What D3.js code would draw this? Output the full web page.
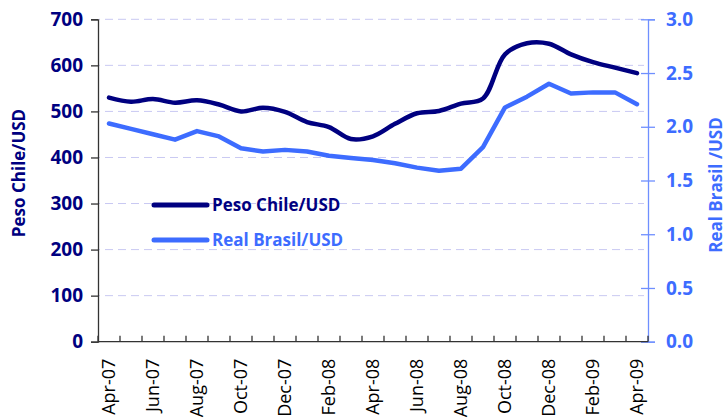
<!DOCTYPE html>
<html><head><meta charset="utf-8">
<script src="https://cdn.jsdelivr.net/npm/d3@7"></script>
<style>
html,body{margin:0;padding:0;background:#fff;overflow:hidden;}
svg{display:block;}
</style></head>
<body>
<svg id="chart" width="728" height="418"></svg>
<script>
const months = ["Apr-07","May-07","Jun-07","Jul-07","Aug-07","Sep-07","Oct-07","Nov-07","Dec-07","Jan-08","Feb-08","Mar-08","Apr-08","May-08","Jun-08","Jul-08","Aug-08","Sep-08","Oct-08","Nov-08","Dec-08","Jan-09","Feb-09","Mar-09","Apr-09"];
const tickLabels = ["Apr-07","Jun-07","Aug-07","Oct-07","Dec-07","Feb-08","Apr-08","Jun-08","Aug-08","Oct-08","Dec-08","Feb-09","Apr-09"];
const pesoChile = [530,521,527,519,524,515,500,508,499,477,466,440,446,473,496,501,517,528,624,648,647,624,607,595,583];
const realBrasil = [2.03,1.98,1.93,1.88,1.96,1.91,1.80,1.77,1.785,1.77,1.73,1.71,1.69,1.66,1.62,1.59,1.61,1.81,2.18,2.28,2.40,2.31,2.32,2.32,2.21];
const leftTicks = [0,100,200,300,400,500,600,700];
const rightTicks = [0,0.5,1,1.5,2,2.5,3];
const seriesNames = ["Peso Chile/USD","Real Brasil/USD"];

const navy = "#000080", blue = "#3d6cff";
const svg = d3.select("#chart");
const L = 98, R = 648, T = 19.3, B = 341.7;

const x = d3.scaleBand().domain(months).range([L, R]).paddingInner(0).paddingOuter(0);
const yL = d3.scaleLinear().domain([0, 700]).range([B, T]);
const yR = d3.scaleLinear().domain([0, 3]).range([B, T]);
const cx = d => x(d) + x.bandwidth() / 2;

// gridlines
svg.append("g").selectAll("line").data(leftTicks.filter(d => d > 0)).join("line")
  .attr("x1", L + 1).attr("x2", R - 4)
  .attr("y1", d => yL(d)).attr("y2", d => yL(d))
  .attr("stroke", "#c9c9f2").attr("stroke-width", 1)
  .attr("stroke-dasharray", "8,5").attr("stroke-dashoffset", -6);

// left axis
const gL = svg.append("g").attr("transform", `translate(${L},0)`)
  .call(d3.axisLeft(yL).tickValues(leftTicks).tickSize(7).tickPadding(8).tickFormat(d3.format("d")));
gL.select(".domain").attr("stroke", "#333").attr("stroke-width", 1.3);
gL.selectAll(".tick line").attr("stroke", "#333").attr("stroke-width", 1.3);
gL.selectAll(".tick text").attr("fill", navy).attr("font-family", "'Open Sans', sans-serif")
  .attr("font-weight", "bold").attr("font-size", "19px");

// right axis
const gR = svg.append("g").attr("transform", `translate(${R},0)`)
  .call(d3.axisRight(yR).tickValues(rightTicks).tickSize(7).tickPadding(11).tickFormat(d3.format(".1f")));
gR.select(".domain").attr("stroke", "#6f8fff").attr("stroke-width", 1.3);
gR.selectAll(".tick line").attr("stroke", "#6f8fff").attr("stroke-width", 1.3).attr("x1", -7);
gR.selectAll(".tick text").attr("fill", blue).attr("font-family", "'Open Sans', sans-serif")
  .attr("font-weight", "bold").attr("font-size", "19px");

// bottom axis
const gB = svg.append("g").attr("transform", `translate(0,${B})`);
gB.append("line").attr("x1", L).attr("x2", R).attr("stroke", "#333").attr("stroke-width", 1.3);
const bounds = months.map(m => x(m)).concat([R]);
gB.selectAll("line.tk").data(bounds).join("line").attr("class", "tk")
  .attr("x1", d => d).attr("x2", d => d).attr("y1", 0).attr("y2", -6)
  .attr("stroke", "#333").attr("stroke-width", 1.3);
gB.selectAll("text").data(tickLabels).join("text")
  .attr("transform", d => `translate(${cx(d)},17) rotate(-90)`)
  .attr("text-anchor", "end").attr("dy", "0.35em")
  .attr("font-family", "'Open Sans', sans-serif").attr("font-size", "18px").attr("fill", "#000")
  .text(d => d);

// lines
const linePeso = d3.line().x((d, i) => cx(months[i])).y(d => yL(d)).curve(d3.curveCatmullRom.alpha(0.5));
const lineReal = d3.line().x((d, i) => cx(months[i])).y(d => yR(d));
svg.append("path").datum(realBrasil).attr("d", lineReal).attr("fill", "none")
  .attr("stroke", blue).attr("stroke-width", 4.5).attr("stroke-linejoin", "round").attr("stroke-linecap", "round");
svg.append("path").datum(pesoChile).attr("d", linePeso).attr("fill", "none")
  .attr("stroke", navy).attr("stroke-width", 4.5).attr("stroke-linejoin", "round").attr("stroke-linecap", "round");

// legend
const leg = svg.append("g");
[[navy, 205], [blue, 240]].forEach(([c, yy], i) => {
  leg.append("line").attr("x1", 154).attr("x2", 207).attr("y1", yy).attr("y2", yy)
    .attr("stroke", c).attr("stroke-width", 5).attr("stroke-linecap", "round");
  leg.append("text").attr("x", 212).attr("y", yy).attr("dy", "0.35em")
    .attr("font-family", "'Open Sans', sans-serif").attr("font-weight", "bold").attr("font-size", "17px")
    .attr("fill", c).text(seriesNames[i]);
});

// axis titles
svg.append("text").attr("transform", "translate(19,173) rotate(-90)").attr("text-anchor", "middle")
  .attr("dy", "0.35em").attr("font-family", "'Open Sans', sans-serif").attr("font-weight", "bold")
  .attr("font-size", "17px").attr("fill", navy).text("Peso Chile/USD");
svg.append("text").attr("transform", "translate(716,185) rotate(-90)").attr("text-anchor", "middle")
  .attr("dy", "0.35em").attr("font-family", "'Open Sans', sans-serif").attr("font-weight", "bold")
  .attr("font-size", "17px").attr("fill", blue).text("Real Brasil /USD");
</script>
</body></html>
